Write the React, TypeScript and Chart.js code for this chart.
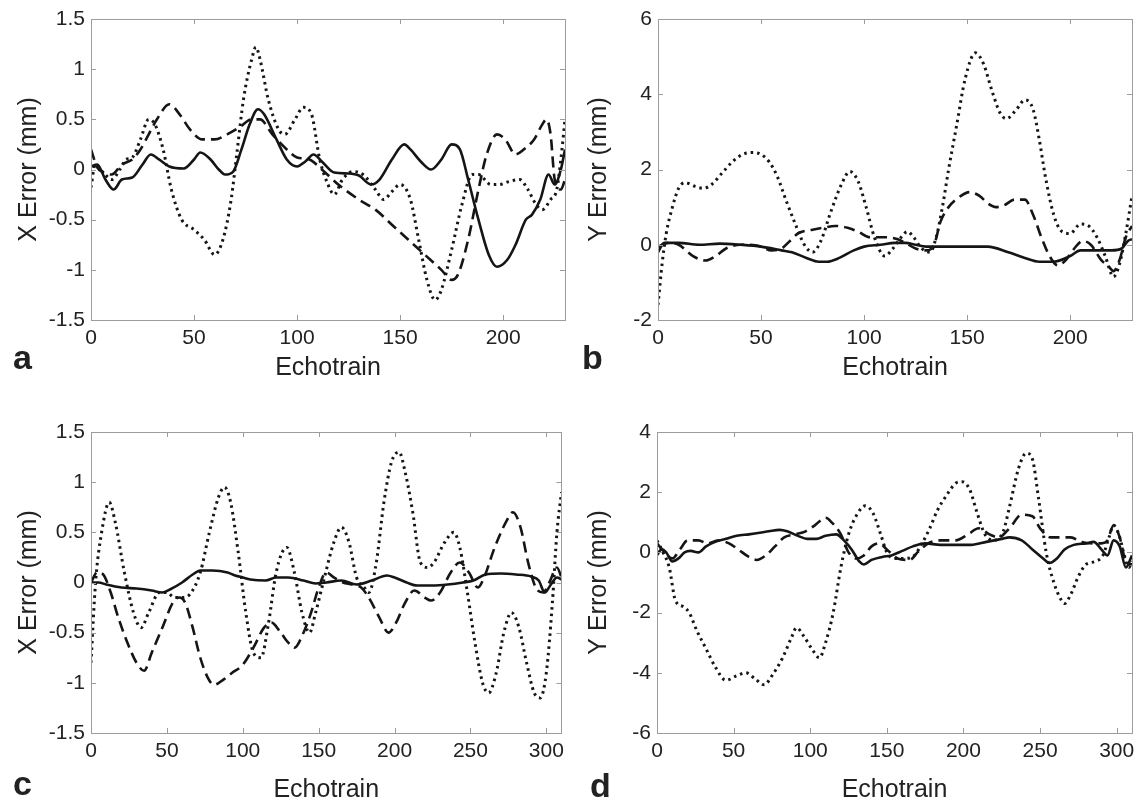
import React, { useEffect, useRef } from "react";
import { Chart, registerables } from "chart.js";

Chart.register(...registerables);

// ---------- DATA ----------
const xTicksTop = [0, 50, 100, 150, 200];
const xTicksBottom = [0, 50, 100, 150, 200, 250, 300];

// Panel a: X error (mm), echotrain 0..230
const aSolid = [[0,0.03],[3,0.05],[7,-0.1],[11,-0.2],[15,-0.1],[20,-0.08],[25,0.05],[29,0.15],[33,0.1],[38,0.03],[45,0.01],[50,0.1],[53,0.17],[58,0.1],[62,0.0],[65,-0.05],[69,-0.02],[73,0.2],[77,0.45],[81,0.6],[84,0.55],[90,0.3],[95,0.1],[100,0.03],[104,0.08],[108,0.15],[112,0.08],[118,-0.03],[125,-0.04],[130,-0.06],[136,-0.15],[140,-0.1],[146,0.1],[152,0.25],[155,0.2],[160,0.08],[165,0.0],[170,0.1],[175,0.25],[179,0.2],[183,-0.1],[188,-0.5],[193,-0.85],[197,-0.97],[202,-0.9],[206,-0.75],[211,-0.5],[214,-0.45],[218,-0.3],[222,-0.05],[225,-0.15],[228,0.0],[230,0.2]];
const aDashed = [[0,0.2],[3,0.02],[6,-0.03],[10,-0.05],[15,0.05],[20,0.1],[24,0.2],[28,0.35],[32,0.5],[38,0.65],[43,0.55],[48,0.4],[54,0.3],[60,0.3],[66,0.35],[72,0.42],[78,0.5],[82,0.5],[88,0.35],[95,0.2],[100,0.12],[106,0.1],[112,0.0],[120,-0.15],[130,-0.3],[138,-0.4],[146,-0.55],[154,-0.7],[162,-0.85],[170,-1.0],[175,-1.1],[178,-1.05],[183,-0.7],[188,-0.2],[192,0.15],[197,0.35],[201,0.3],[206,0.15],[210,0.2],[215,0.3],[219,0.45],[221,0.5],[223,0.35],[225,-0.1],[228,-0.2],[230,-0.1]];
const aDotted = [[0,-0.18],[2,0.05],[6,-0.03],[10,-0.1],[14,0.0],[17,0.1],[20,0.12],[24,0.3],[28,0.5],[31,0.45],[35,0.2],[39,-0.2],[44,-0.5],[50,-0.6],[55,-0.7],[60,-0.85],[64,-0.7],[68,-0.3],[71,0.2],[74,0.7],[78,1.1],[80,1.22],[82,1.1],[86,0.7],[91,0.4],[94,0.35],[99,0.5],[103,0.62],[107,0.55],[111,0.1],[115,-0.15],[118,-0.25],[122,-0.1],[127,-0.02],[132,-0.05],[138,-0.2],[142,-0.3],[146,-0.22],[150,-0.15],[155,-0.3],[159,-0.7],[163,-1.1],[167,-1.3],[170,-1.2],[175,-0.8],[180,-0.35],[185,-0.05],[188,-0.05],[194,-0.15],[198,-0.15],[203,-0.12],[208,-0.1],[212,-0.2],[216,-0.35],[219,-0.4],[223,-0.3],[226,-0.2],[228,0.1],[230,0.5]];

// Panel b: Y error (mm), echotrain 0..230
const bSolid = [[0,-0.2],[3,0.05],[10,0.05],[20,0.0],[30,0.03],[40,0.0],[50,-0.05],[60,-0.15],[65,-0.2],[72,-0.35],[78,-0.45],[82,-0.45],[88,-0.35],[95,-0.15],[100,-0.05],[108,0.0],[115,0.05],[120,0.05],[125,0.0],[130,-0.05],[140,-0.05],[150,-0.05],[160,-0.05],[170,-0.2],[178,-0.35],[185,-0.45],[192,-0.45],[200,-0.3],[205,-0.15],[212,-0.15],[220,-0.15],[225,-0.1],[228,0.1],[230,0.15]];
const bDashed = [[0,-0.05],[5,0.05],[10,0.0],[17,-0.3],[23,-0.42],[28,-0.3],[33,-0.1],[40,0.0],[45,0.0],[50,-0.05],[55,-0.15],[60,-0.1],[64,0.1],[68,0.3],[75,0.4],[80,0.45],[86,0.5],[92,0.45],[97,0.35],[103,0.2],[110,0.2],[116,0.15],[120,0.05],[125,-0.1],[130,-0.15],[134,0.0],[137,0.6],[141,1.0],[147,1.3],[151,1.4],[156,1.3],[160,1.1],[164,1.0],[168,1.05],[173,1.2],[178,1.2],[182,0.8],[186,0.2],[190,-0.3],[194,-0.55],[198,-0.4],[202,-0.1],[206,0.1],[210,0.0],[215,-0.4],[219,-0.6],[221,-0.7],[224,-0.4],[227,0.2],[230,0.5]];
const bDotted = [[0,-1.6],[2,-0.5],[4,0.3],[7,1.0],[10,1.5],[13,1.65],[18,1.55],[22,1.5],[26,1.6],[31,1.9],[36,2.2],[41,2.4],[46,2.45],[50,2.4],[54,2.2],[58,1.8],[62,1.2],[67,0.5],[71,0.0],[75,-0.2],[79,0.1],[84,0.9],[89,1.6],[93,1.95],[97,1.7],[101,1.0],[105,0.2],[110,-0.3],[114,-0.1],[118,0.2],[121,0.35],[124,0.2],[128,-0.1],[132,-0.2],[135,0.2],[138,1.0],[141,2.0],[145,3.2],[149,4.4],[154,5.1],[158,4.8],[162,4.1],[166,3.5],[169,3.35],[174,3.6],[178,3.85],[182,3.6],[185,2.8],[188,1.8],[192,0.8],[196,0.35],[200,0.3],[205,0.55],[209,0.5],[213,0.2],[217,-0.3],[221,-0.85],[224,-0.5],[227,0.3],[230,1.3]];

// Panel c: X error (mm), echotrain 0..310
const cSolid = [[0,0.0],[5,0.0],[10,-0.02],[20,-0.05],[30,-0.06],[40,-0.08],[47,-0.1],[52,-0.07],[60,0.0],[67,0.08],[72,0.12],[80,0.12],[90,0.1],[95,0.07],[100,0.05],[105,0.03],[115,0.02],[122,0.05],[130,0.05],[140,0.02],[148,-0.01],[155,0.0],[165,0.02],[175,-0.02],[185,0.02],[195,0.07],[200,0.05],[208,0.0],[215,-0.03],[225,-0.03],[235,-0.02],[245,0.0],[252,0.02],[260,0.08],[270,0.09],[280,0.08],[290,0.06],[295,0.02],[299,-0.1],[303,-0.02],[307,0.05],[310,0.03]];
const cDashed = [[0,0.0],[4,0.1],[8,0.08],[13,-0.1],[18,-0.35],[24,-0.6],[30,-0.8],[35,-0.88],[40,-0.7],[47,-0.45],[54,-0.2],[58,-0.15],[62,-0.2],[67,-0.45],[72,-0.75],[77,-0.95],[81,-1.02],[87,-0.97],[93,-0.9],[100,-0.82],[107,-0.65],[114,-0.45],[119,-0.4],[125,-0.5],[130,-0.6],[134,-0.65],[140,-0.5],[145,-0.3],[150,-0.05],[155,0.1],[160,0.05],[166,0.0],[172,-0.02],[178,-0.05],[183,-0.15],[190,-0.35],[196,-0.5],[201,-0.4],[207,-0.2],[213,-0.08],[220,-0.15],[224,-0.18],[230,-0.1],[237,0.1],[243,0.2],[249,0.1],[255,-0.05],[259,0.05],[266,0.35],[274,0.62],[278,0.7],[283,0.55],[288,0.2],[293,-0.05],[298,-0.1],[302,0.0],[307,0.15],[310,0.05]];
const cDotted = [[0,-0.8],[3,0.0],[7,0.5],[12,0.8],[16,0.6],[22,0.1],[28,-0.3],[33,-0.45],[38,-0.3],[45,-0.1],[50,-0.1],[55,-0.15],[60,-0.15],[65,-0.12],[72,0.1],[78,0.5],[84,0.85],[88,0.95],[92,0.8],[97,0.3],[102,-0.3],[107,-0.7],[112,-0.75],[117,-0.4],[122,0.1],[129,0.35],[134,0.1],[139,-0.3],[144,-0.5],[148,-0.3],[153,0.0],[160,0.4],[165,0.55],[170,0.4],[175,0.05],[180,-0.05],[183,-0.1],[188,0.2],[193,0.8],[198,1.2],[203,1.3],[207,1.1],[212,0.7],[217,0.2],[222,0.15],[226,0.2],[233,0.4],[239,0.5],[243,0.35],[248,-0.1],[253,-0.6],[258,-1.0],[262,-1.1],[267,-0.9],[272,-0.5],[277,-0.3],[282,-0.45],[287,-0.8],[292,-1.1],[296,-1.15],[300,-0.9],[304,-0.2],[307,0.5],[310,0.9]];

// Panel d: Y error (mm), echotrain 0..310
const dSolid = [[0,-0.1],[3,0.1],[6,0.0],[10,-0.3],[14,-0.2],[18,0.0],[22,0.05],[27,0.0],[32,0.2],[38,0.35],[45,0.45],[52,0.55],[60,0.6],[67,0.65],[73,0.7],[80,0.75],[85,0.7],[92,0.55],[98,0.45],[104,0.45],[110,0.55],[117,0.6],[122,0.4],[127,0.1],[132,-0.3],[135,-0.4],[140,-0.25],[147,-0.15],[153,-0.1],[160,0.05],[167,0.2],[175,0.3],[185,0.25],[195,0.25],[205,0.25],[215,0.35],[225,0.45],[230,0.5],[238,0.4],[245,0.1],[252,-0.2],[256,-0.35],[261,-0.2],[266,0.1],[272,0.25],[280,0.3],[285,0.35],[290,0.1],[294,-0.1],[298,0.4],[302,0.2],[306,-0.5],[310,-0.1]];
const dDashed = [[0,0.3],[5,0.0],[10,-0.2],[15,0.1],[20,0.4],[27,0.4],[33,0.3],[40,0.4],[47,0.3],[53,0.1],[60,-0.15],[65,-0.25],[71,-0.1],[77,0.2],[83,0.5],[90,0.6],[97,0.7],[103,0.9],[110,1.15],[114,1.0],[120,0.6],[125,0.0],[130,-0.2],[135,-0.1],[140,0.2],[145,0.3],[150,0.1],[157,-0.2],[165,-0.25],[170,0.0],[177,0.3],[185,0.4],[195,0.4],[203,0.6],[210,0.8],[217,0.6],[223,0.5],[230,0.8],[238,1.25],[245,1.2],[250,0.8],[257,0.5],[265,0.5],[270,0.5],[277,0.35],[285,0.3],[290,0.3],[294,0.4],[298,0.9],[302,0.5],[306,-0.3],[310,-0.4]];
const dDotted = [[0,0.4],[4,0.0],[8,-0.5],[12,-1.6],[17,-1.8],[21,-2.0],[26,-2.6],[32,-3.2],[38,-3.8],[45,-4.25],[52,-4.1],[58,-4.0],[64,-4.2],[70,-4.4],[75,-4.1],[82,-3.5],[88,-2.8],[91,-2.5],[96,-2.8],[101,-3.2],[106,-3.5],[110,-3.0],[115,-2.0],[120,-0.5],[125,0.6],[131,1.3],[136,1.55],[141,1.3],[146,0.6],[150,0.0],[155,-0.2],[162,-0.2],[168,-0.1],[173,0.3],[178,0.8],[183,1.4],[189,1.9],[195,2.3],[199,2.35],[204,2.1],[209,1.3],[214,0.6],[220,0.4],[226,0.7],[230,1.5],[236,2.8],[241,3.3],[245,3.1],[249,1.8],[254,0.0],[259,-1.0],[264,-1.6],[266,-1.7],[270,-1.4],[275,-0.8],[280,-0.4],[286,-0.3],[291,-0.1],[295,0.5],[298,0.9],[302,0.5],[305,-0.1],[308,-0.5],[310,-0.3]];

// ---------- STYLE ----------
const FONT = '"Liberation Sans", Arial, Helvetica, sans-serif';
const INK = "#151515";
const FRAME = "#9c9c9c";
const TEXT = "#222222";

type Pt = number[];

interface PanelProps {
  letter: string;
  yTitle: string;
  xMax: number;
  xTicks: number[];
  yMin: number;
  yMax: number;
  yStep: number;
  solid: Pt[];
  dashed: Pt[];
  dotted: Pt[];
  left: number;
  top: number;
  width: number;
  height: number;
  yAxisWidth: number;
  padTop: number;
  padRight: number;
  xAxisHeight: number;
  xTitlePad: number;
  letterLeft: number;
  letterTop: number;
}

const framePlugin = {
  id: "matlabFrame",
  afterDatasetsDraw(chart: any) {
    const { ctx, chartArea } = chart;
    const { left, right, top, bottom } = chartArea;
    const xs = chart.scales.x;
    const ys = chart.scales.y;
    ctx.save();
    ctx.strokeStyle = FRAME;
    ctx.lineWidth = 1;
    ctx.beginPath();
    const L = 5;
    xs.ticks.forEach((t: any) => {
      const px = Math.round(xs.getPixelForValue(t.value)) + 0.5;
      ctx.moveTo(px, bottom);
      ctx.lineTo(px, bottom - L);
      ctx.moveTo(px, top);
      ctx.lineTo(px, top + L);
    });
    ys.ticks.forEach((t: any) => {
      const py = Math.round(ys.getPixelForValue(t.value)) + 0.5;
      ctx.moveTo(left, py);
      ctx.lineTo(left + L, py);
      ctx.moveTo(right, py);
      ctx.lineTo(right - L, py);
    });
    ctx.stroke();
    ctx.strokeRect(Math.round(left) + 0.5, Math.round(top) + 0.5, Math.round(right - left), Math.round(bottom - top));
    ctx.restore();
  },
};

const toXY = (arr: Pt[]) => arr.map((p) => ({ x: p[0], y: p[1] }));

function Panel(p: PanelProps) {
  const ref = useRef<HTMLCanvasElement | null>(null);
  useEffect(() => {
    if (!ref.current) return;
    const common = {
      pointRadius: 0,
      borderColor: INK,
      fill: false,
      cubicInterpolationMode: "monotone" as const,
    };
    const chart = new Chart(ref.current, {
      type: "line",
      data: {
        datasets: [
          { ...common, label: "solid", data: toXY(p.solid), borderWidth: 2.6 },
          { ...common, label: "dashed", data: toXY(p.dashed), borderWidth: 2.6, borderDash: [11, 6] },
          { ...common, label: "dotted", data: toXY(p.dotted), borderWidth: 3, borderDash: [2.5, 4] },
        ],
      },
      options: {
        animation: false,
        responsive: false,
        maintainAspectRatio: false,
        events: [],
        layout: { padding: { top: p.padTop, right: p.padRight, left: 0, bottom: 0 } },
        plugins: { legend: { display: false }, tooltip: { enabled: false }, title: { display: false } },
        scales: {
          x: {
            type: "linear",
            min: 0,
            max: p.xMax,
            grid: { display: false, drawTicks: false },
            border: { display: false },
            afterBuildTicks: (s: any) => {
              s.ticks = p.xTicks.map((v) => ({ value: v }));
            },
            afterFit: (s: any) => {
              s.height = p.xAxisHeight;
            },
            ticks: {
              color: TEXT,
              font: { family: FONT, size: 21 },
              padding: 6,
              maxRotation: 0,
              autoSkip: false,
              callback: (v: any) => String(v),
            },
            title: {
              display: true,
              text: "Echotrain",
              color: TEXT,
              font: { family: FONT, size: 25 },
              padding: { top: 0, bottom: p.xTitlePad },
            },
          },
          y: {
            type: "linear",
            min: p.yMin,
            max: p.yMax,
            grid: { display: false, drawTicks: false },
            border: { display: false },
            afterFit: (s: any) => {
              s.width = p.yAxisWidth;
            },
            ticks: {
              stepSize: p.yStep,
              color: TEXT,
              font: { family: FONT, size: 21 },
              padding: 6,
              autoSkip: false,
              callback: (v: any) => String(Math.round(Number(v) * 10) / 10),
            },
            title: {
              display: true,
              text: p.yTitle,
              color: TEXT,
              font: { family: FONT, size: 25 },
              padding: { top: 14, bottom: 0 },
            },
          },
        },
      },
      plugins: [framePlugin],
    });
    return () => chart.destroy();
  }, []);
  return (
    <>
      <div style={{ position: "absolute", left: p.left, top: p.top, width: p.width, height: p.height }}>
        <canvas ref={ref} width={p.width} height={p.height} style={{ width: p.width, height: p.height, display: "block" }} />
      </div>
      <div
        style={{
          position: "absolute",
          left: p.letterLeft,
          top: p.letterTop,
          fontFamily: FONT,
          fontWeight: "bold",
          fontSize: 34,
          lineHeight: "34px",
          color: TEXT,
        }}
      >
        {p.letter}
      </div>
    </>
  );
}

export default function App() {
  useEffect(() => {
    document.body.style.margin = "0";
    document.body.style.background = "#ffffff";
  }, []);
  return (
    <div style={{ position: "relative", width: 1142, height: 808, background: "#fff", overflow: "hidden" }}>
      <Panel letter="a" yTitle="X Error (mm)" xMax={230} xTicks={xTicksTop} yMin={-1.5} yMax={1.5} yStep={0.5}
        solid={aSolid} dashed={aDashed} dotted={aDotted}
        left={0} top={0} width={570} height={392} yAxisWidth={91} padTop={19} padRight={5} xAxisHeight={72} xTitlePad={9}
        letterLeft={13} letterTop={340} />
      <Panel letter="b" yTitle="Y Error (mm)" xMax={230} xTicks={xTicksTop} yMin={-2} yMax={6} yStep={2}
        solid={bSolid} dashed={bDashed} dotted={bDotted}
        left={570} top={0} width={572} height={392} yAxisWidth={88} padTop={19} padRight={10} xAxisHeight={72} xTitlePad={9}
        letterLeft={582} letterTop={340} />
      <Panel letter="c" yTitle="X Error (mm)" xMax={310} xTicks={xTicksBottom} yMin={-1.5} yMax={1.5} yStep={0.5}
        solid={cSolid} dashed={cDashed} dotted={cDotted}
        left={0} top={400} width={570} height={408} yAxisWidth={91} padTop={32} padRight={5} xAxisHeight={75} xTitlePad={3}
        letterLeft={13} letterTop={766} />
      <Panel letter="d" yTitle="Y Error (mm)" xMax={310} xTicks={xTicksBottom} yMin={-6} yMax={4} yStep={2}
        solid={dSolid} dashed={dDashed} dotted={dDotted}
        left={570} top={400} width={572} height={408} yAxisWidth={87} padTop={32} padRight={10} xAxisHeight={75} xTitlePad={3}
        letterLeft={590} letterTop={768} />
    </div>
  );
}
